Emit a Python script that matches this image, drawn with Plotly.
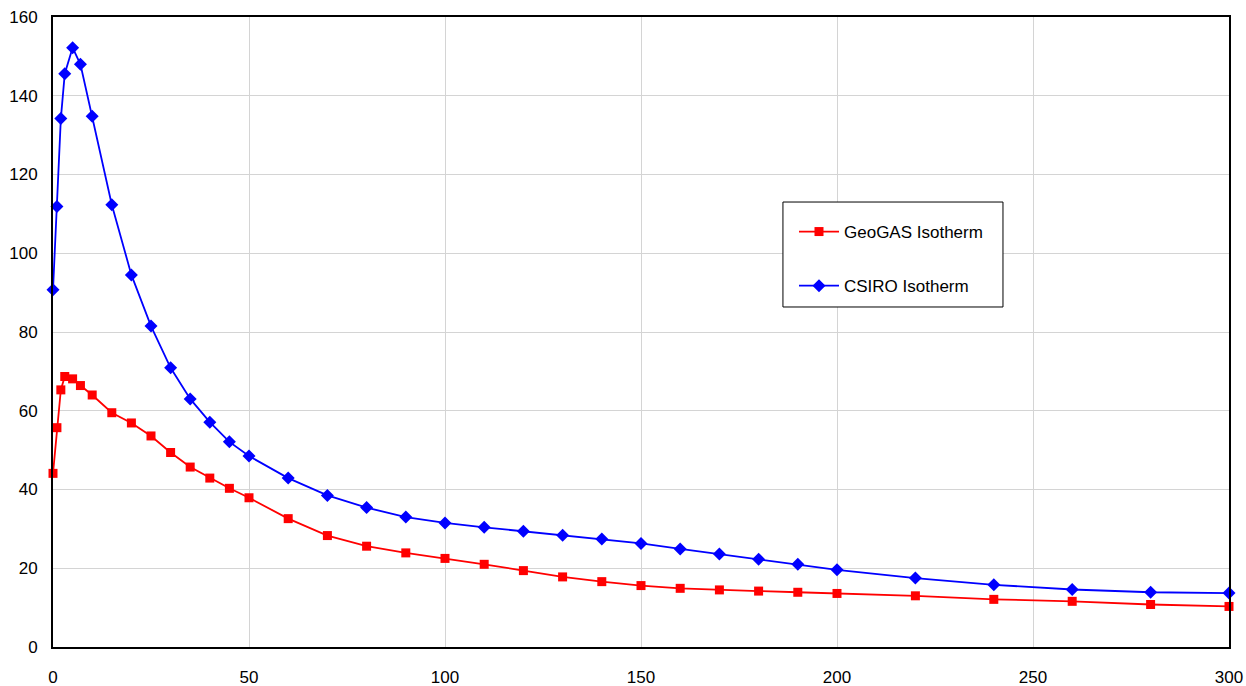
import plotly.graph_objects as go

x_vals = [0, 1, 2, 3, 5, 7, 10, 15, 20, 25, 30, 35, 40, 45, 50, 60, 70, 80, 90, 100,
          110, 120, 130, 140, 150, 160, 170, 180, 190, 200, 220, 240, 260, 280, 300]

geogas = [44.1, 55.7, 65.3, 68.7, 68.1, 66.4, 64.0, 59.5, 56.9, 53.6, 49.4, 45.7, 42.9, 40.3, 37.9,
          32.6, 28.3, 25.6, 23.9, 22.5, 21.0, 19.4, 17.8, 16.6, 15.6, 14.9, 14.5, 14.2, 13.9, 13.6,
          13.0, 12.1, 11.6, 10.8, 10.3]

csiro = [90.7, 111.9, 134.2, 145.6, 152.2, 148.0, 134.8, 112.3, 94.5, 81.5, 70.9, 63.0, 57.1, 52.1, 48.5,
         42.9, 38.5, 35.4, 33.0, 31.5, 30.4, 29.4, 28.4, 27.4, 26.3, 24.9, 23.6, 22.3, 21.0, 19.6,
         17.5, 15.8, 14.6, 13.9, 13.7]

x_ticks = [0, 50, 100, 150, 200, 250, 300]
y_ticks = [0, 20, 40, 60, 80, 100, 120, 140, 160]

fig = go.Figure()
fig.add_trace(go.Scatter(
    x=x_vals, y=geogas, mode="lines+markers", name="GeoGAS Isotherm",
    line=dict(color="#ff0000", width=1.8),
    marker=dict(symbol="square", size=9, color="#ff0000"),
    legendgroup="g1", cliponaxis=False))
fig.add_trace(go.Scatter(
    x=x_vals, y=csiro, mode="lines+markers", name="CSIRO Isotherm",
    line=dict(color="#0000ff", width=1.8),
    marker=dict(symbol="diamond", size=10, color="#0000ff"),
    legendgroup="g2", cliponaxis=False))

# legend frame
fig.add_shape(type="rect", xref="paper", yref="paper",
              x0=0.6207, x1=0.8078, y0=0.5397, y1=0.7063,
              fillcolor="white", line=dict(color="black", width=1), layer="above")

fig.update_layout(
    width=1246, height=686,
    margin=dict(l=53, r=17, t=17, b=39),
    paper_bgcolor="white", plot_bgcolor="white",
    font=dict(family="Liberation Sans, Arial, sans-serif", size=17, color="black"),
    showlegend=True,
    legend=dict(
        x=0.6301, y=0.6873, xanchor="left", yanchor="top",
        bgcolor="rgba(0,0,0,0)", borderwidth=0,
        font=dict(size=17), tracegroupgap=29,
        itemwidth=40,
    ),
    xaxis=dict(
        range=[0, 300], tickvals=x_ticks, showgrid=True, gridcolor="#d4d4d4", gridwidth=1,
        showline=True, linecolor="black", linewidth=2, mirror=True, zeroline=False,
        ticks="", ticklabelstandoff=14, automargin=False,
    ),
    yaxis=dict(
        range=[0, 160], tickvals=y_ticks, showgrid=True, gridcolor="#d4d4d4", gridwidth=1,
        showline=True, linecolor="black", linewidth=2, mirror=True, zeroline=False,
        ticks="", ticklabelstandoff=10, automargin=False,
    ),
)

fig.write_html("out.html")
